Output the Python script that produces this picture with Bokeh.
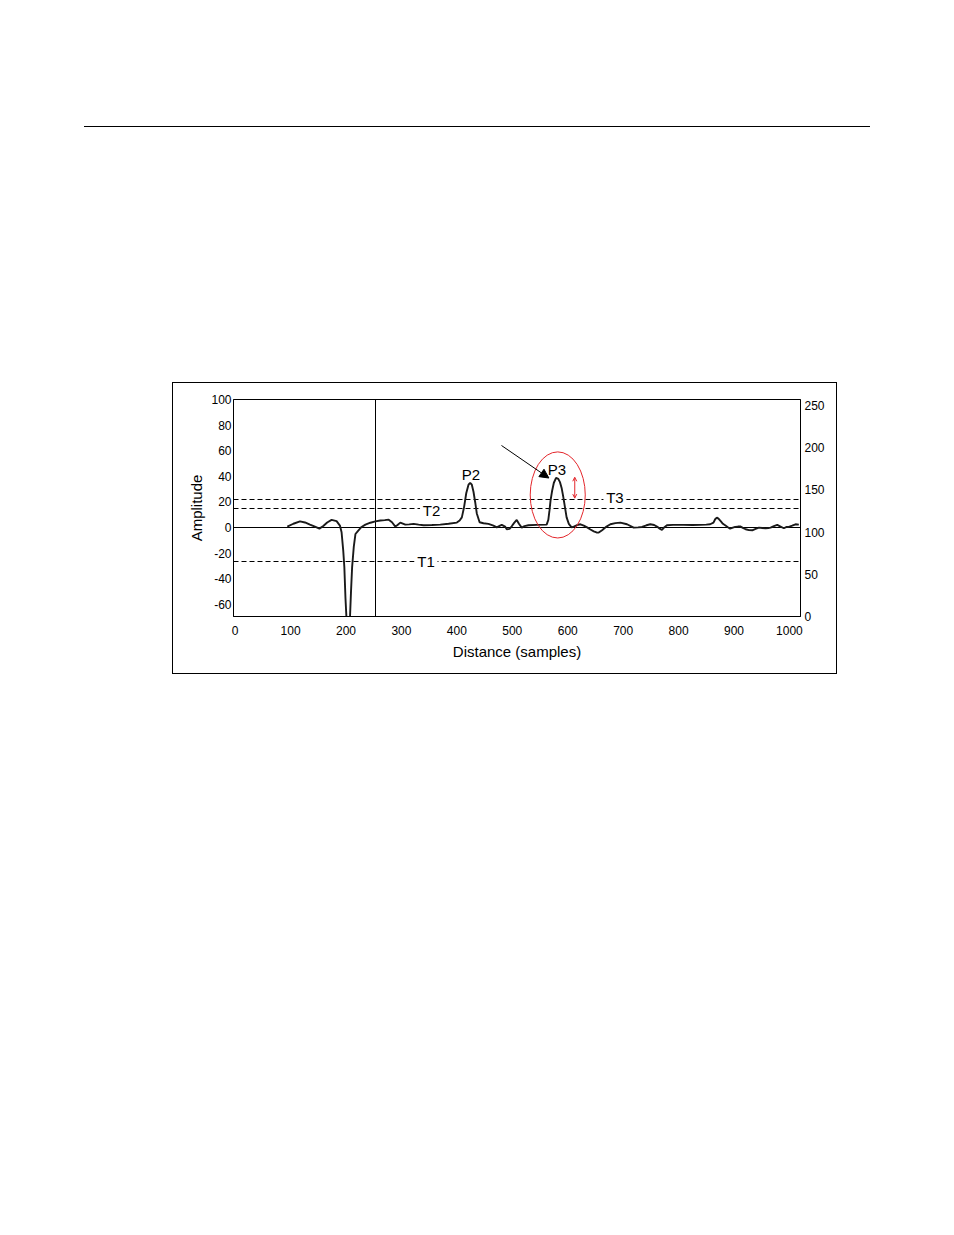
from bokeh.plotting import figure
from bokeh.models import Range1d, LinearAxis, Div, Arrow, NormalHead, OpenHead, PrintfTickFormatter
from bokeh.layouts import column
from bokeh.core.properties import value
from bokeh.embed import file_html
from bokeh.resources import INLINE

FONT = "Liberation Sans"

# ---- data ----
distance = [94, 105, 117, 126, 135, 145, 152, 159, 166, 174, 183, 189, 192, 195, 197, 199, 201, 203,
            205, 207, 209, 211, 214, 217, 221, 228, 235, 244, 253, 262, 270, 277, 283, 289, 293, 298,
            307, 314, 322, 331, 340, 355, 370, 385, 400, 405, 409, 413, 417, 421, 424, 427, 430, 433,
            436, 441, 448, 457, 466, 472, 478, 481, 487, 490, 495, 499, 503, 508, 512, 517, 522, 529,
            544, 562, 565, 567, 569, 572, 575, 579, 583, 586, 589, 592, 595, 598, 602, 607, 612, 617,
            623, 629, 635, 641, 647, 652, 656, 662, 670, 677, 686, 695, 707, 719, 727, 734, 742, 749,
            756, 761, 766, 770, 775, 779, 790, 809, 825, 839, 850, 857, 863, 866, 869, 872, 876, 880,
            884, 889, 893, 898, 902, 907, 912, 916, 921, 927, 933, 939, 945, 951, 957, 962, 966, 972,
            978, 984, 990, 995, 999, 1005, 1011, 1017]
amplitude = [0.8, 3.0, 4.9, 4.0, 2.3, 0.5, -0.8, 1.3, 4.0, 6.0, 5.0, 1.6, -3.6, -18, -31, -55, -72, -80,
             -80, -72, -50, -31, -15, -5, -2.9, 0.5, 2.3, 3.8, 4.9, 5.5, 5.8, 6.2, 4.2, 0.8, 2.0, 3.9,
             2.3, 2.5, 2.9, 2.3, 1.8, 2.0, 2.3, 3.0, 3.9, 5.5, 8.0, 16, 27, 33.5, 35, 33.5, 28, 20,
             11, 4.2, 3.4, 2.9, 1.6, 0.2, 1.5, 2.1, 0.8, -1.3, -1.0, 1.0, 3.5, 6.0, 3.0, 0.0, 1.2, 1.8,
             2.1, 2.3, 6, 13, 21, 29, 35, 38.8, 38, 35.5, 31, 24, 16, 8, 2.9, 0.2, 1.0, 2.0,
             2.6, 1.5, 0.2, -1.5, -2.9, -3.8, -3.9, -2.0, 0.8, 2.6, 3.5, 3.9, 2.6, 0.0, 0.2, 0.5, 1.8, 2.6,
             2.0, 0.8, -0.8, -1.8, 0.5, 1.8, 2.1, 2.1, 2.0, 2.1, 2.3, 2.6, 3.9, 6.5, 7.8, 7.0, 5.0, 3.0,
             1.8, 0.3, -0.8, 0.0, 0.6, 0.8, 0.8, -0.2, -1.3, -2.0, -2.1, -1.0, 0.0, -0.3, -0.6, -0.3, 0.0, 1.2,
             2.1, 0.8, -0.5, 0.5, 0.5, 1.5, 2.6, 2.3]

x_ticks = [0, 100, 200, 300, 400, 500, 600, 700, 800, 900, 1000]
left_ticks = [-60, -40, -20, 0, 20, 40, 60, 80, 100]
right_ticks = [0, 50, 100, 150, 200, 250]

thresholds = [21.9, 14.9, -26.5]          # T3, T2, T1 dashed levels
marker_x = 253                            # vertical cursor line
t_label_x = [344.3, 354.3, 685.2]
t_label_y = [-26.5, 13.3, 23.5]
t_label_text = ["T1", "T2", "T3"]
p_label_x = [425.5, 580.6]
p_label_y = [41.8, 45.7]
p_label_text = ["P2", "P3"]

# ---- figure ----
p = figure(width=663, height=290,
           x_range=Range1d(-3, 1020), y_range=Range1d(-69.4, 100),
           output_backend="svg", toolbar_location=None,
           min_border_left=60, min_border_right=36, min_border_top=16, min_border_bottom=57,
           styles={"outline": "1px solid black"}, margin=(256, 0, 0, 173))
p.extra_y_ranges = {"right": Range1d(0, 257)}
p.grid.visible = False
p.outline_line_color = "black"
p.outline_line_alpha = 1.0
p.background_fill_color = "white"
p.border_fill_color = "white"

right_axis = LinearAxis(y_range_name="right")
p.add_layout(right_axis, "right")

for ax in [p.xaxis[0], p.yaxis[0], right_axis]:
    ax.major_tick_out = 0
    ax.major_tick_in = 0
    ax.minor_tick_out = 0
    ax.minor_tick_in = 0
    ax.axis_line_color = "black"
    ax.formatter = PrintfTickFormatter(format="%d")
    ax.major_label_text_font = FONT
    ax.major_label_text_font_size = "12px"
    ax.major_label_text_color = "black"
    ax.axis_label_text_font = FONT
    ax.axis_label_text_font_size = "15px"
    ax.axis_label_text_font_style = "normal"
    ax.axis_label_text_color = "black"

p.xaxis.ticker = x_ticks
p.xaxis.axis_label = "Distance (samples)"
p.xaxis.major_label_standoff = 9
p.xaxis.axis_label_standoff = 5
p.yaxis[0].ticker = left_ticks
p.yaxis[0].axis_label = "Amplitude"
p.yaxis[0].major_label_standoff = 2
p.yaxis[0].axis_label_standoff = 3
right_axis.ticker = right_ticks
right_axis.major_label_standoff = 4

# reference lines
p.hspan(y=thresholds, line_color="black", line_width=1, line_dash="5 3")
p.hspan(y=[0], line_color="black", line_width=1)
p.vspan(x=[marker_x], line_color="black", line_width=1)

# white backgrounds behind threshold labels
p.rect(x=t_label_x, y=t_label_y, width=23, height=12, width_units="screen", height_units="screen",
       fill_color="white", line_color=None)

# signal
p.line(distance, amplitude, line_color="#1a1a1a", line_width=1.9)

# labels
p.text(x=t_label_x + p_label_x, y=t_label_y + p_label_y, text=t_label_text + p_label_text,
       text_font=value(FONT), text_font_size="15px", text_align="center",
       text_baseline="middle", text_color="black")

# red ellipse and arrows
p.ellipse(x=[582], y=[25.5], width=[99.3], height=[67.2], fill_color=None,
          line_color="#e3262b", line_width=1)
p.add_layout(Arrow(end=NormalHead(size=9, fill_color="black", line_color="black"),
                   x_start=480.5, y_start=64.1, x_end=566, y_end=38.7,
                   line_color="black", line_width=1))
p.add_layout(Arrow(start=OpenHead(size=4, line_color="#e3262b", line_width=1),
                   end=OpenHead(size=4, line_color="#e3262b", line_width=1),
                   x_start=612.7, y_start=23.0, x_end=612.7, y_end=39.3,
                   line_color="#e3262b", line_width=1))

rule = Div(text="", width=786, height=1, margin=(126, 0, 0, 84),
           styles={"background-color": "black"})

layout = column(rule, p)

open("out.html", "w").write(file_html(layout, INLINE))
